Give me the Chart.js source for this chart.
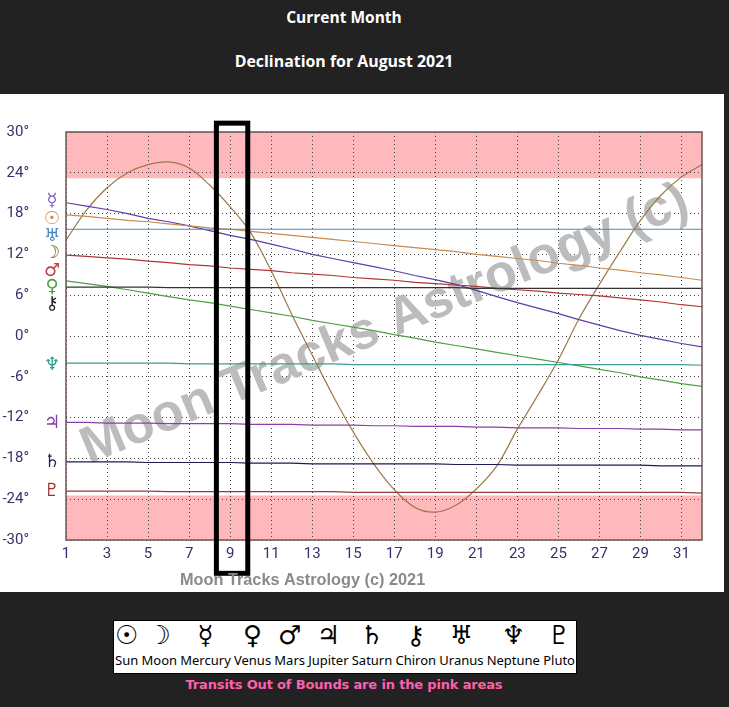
<!DOCTYPE html>
<html>
<head>
<meta charset="utf-8">
<title>Declination for August 2021</title>
<script src="https://cdn.jsdelivr.net/npm/chart.js@4"></script>
<style>
    html, body { margin: 0; padding: 0; background: #222222; overflow: hidden; }
    body { position: relative; width: 729px; height: 707px; font-family: "Open Sans", sans-serif; }
    .titulo { position: absolute; left: 0; width: 688px; text-align: center; color: #fff; font-weight: bold; }
    #t1 { top: 6px; font-size: 15.5px; line-height: 22px; }
    #t2 { top: 50px; font-size: 15.9px; line-height: 22px; }
    #panel { position: absolute; left: 0; top: 94px; width: 724px; height: 498px; background: #fff; }
    #leyenda { position: absolute; left: 113px; top: 620px; width: 460px; height: 52px; background: #fff; border: 1px solid #000; display: flex; justify-content: space-between; padding: 0 1px; box-sizing: content-box; }
    #leyenda div { text-align: center; color: #000; font-family: "Noto Sans", sans-serif; font-size: 13px; line-height: 16px; white-space: nowrap; }
    #leyenda span { display: block; font-family: "DejaVu Sans", sans-serif; font-weight: bold; font-size: 26px; line-height: 28px; margin-bottom: 3px; }
    #nota { position: absolute; left: 0; top: 676px; width: 688px; text-align: center; color: #ff5fae; font: bold 13px "DejaVu Sans", sans-serif; letter-spacing: -0.16px; line-height: 18px; }
</style>
</head>
<body>
<div class="titulo" id="t1">Current Month</div>
<div class="titulo" id="t2">Declination for August 2021</div>
<div id="panel"><canvas id="grafica" width="724" height="498"></canvas></div>
<div id="leyenda"></div>
<div id="nota">Transits Out of Bounds are in the pink areas</div>

<script>
//Declarar datos
const days = [1,2,3,4,5,6,7,8,9,10,11,12,13,14,15,16,17,18,19,20,21,22,23,24,25,26,27,28,29,30,31,32];
const dayTicks = [1,3,5,7,9,11,13,15,17,19,21,23,25,27,29,31];

const moon = [14.1,18.5,21.8,24.0,25.2,25.6,24.7,22.2,19.0,15.2,9.6,3.2,-2.8,-8.7,-14.1,-18.8,-22.6,-25.2,-25.9,-24.9,-22.5,-19.1,-13.7,-8.7,-3.5,2.5,7.6,12.4,17.0,20.7,23.4,25.2];
const sun = [17.8,17.6,17.3,17.0,16.8,16.5,16.2,15.9,15.7,15.4,15.1,14.8,14.5,14.2,13.9,13.6,13.3,13.0,12.7,12.4,12.0,11.7,11.4,11.1,10.7,10.4,10.0,9.7,9.3,9.0,8.6,8.2];
const mercury = [19.6,19.1,18.6,18.0,17.3,16.8,16.2,15.5,14.8,14.2,13.5,12.8,12.0,11.4,10.8,10.2,9.6,8.9,8.3,7.6,6.7,5.8,4.9,4.1,3.3,2.4,1.6,0.8,0.1,-0.5,-1.1,-1.6];
const venus = [8.1,7.7,7.3,6.8,6.3,5.8,5.3,4.9,4.4,3.9,3.4,2.9,2.3,1.8,1.3,0.8,0.2,-0.3,-0.9,-1.4,-1.9,-2.4,-2.9,-3.4,-3.9,-4.4,-4.9,-5.4,-6.0,-6.5,-7.0,-7.4];
const mars = [11.9,11.7,11.5,11.3,11.0,10.8,10.5,10.3,10.0,9.8,9.6,9.3,9.1,8.9,8.6,8.4,8.2,7.9,7.7,7.5,7.3,7.0,6.8,6.6,6.3,6.1,5.9,5.6,5.3,5.0,4.6,4.3];
const jupiter = [-12.7,-12.7,-12.8,-12.8,-12.8,-12.9,-12.9,-12.9,-12.9,-13.0,-13.0,-13.0,-13.1,-13.1,-13.1,-13.2,-13.2,-13.3,-13.3,-13.3,-13.4,-13.4,-13.5,-13.5,-13.5,-13.6,-13.6,-13.6,-13.7,-13.7,-13.8,-13.8];
const saturn = [-18.5,-18.5,-18.5,-18.5,-18.6,-18.6,-18.6,-18.6,-18.6,-18.7,-18.7,-18.7,-18.8,-18.8,-18.8,-18.8,-18.8,-18.8,-18.8,-18.9,-18.9,-18.9,-19.0,-19.0,-19.0,-19.0,-19.0,-19.0,-19.0,-19.1,-19.1,-19.1];
const chiron = [7.2,7.2,7.2,7.2,7.2,7.1,7.1,7.1,7.1,7.1,7.1,7.1,7.1,7.1,7.1,7.1,7.1,7.1,7.1,7.1,7.0,7.0,7.0,7.0,7.0,7.0,7.0,7.0,7.0,7.0,7.0,7.0];
const uranus = [15.7,15.7,15.7,15.7,15.7,15.7,15.7,15.7,15.7,15.7,15.7,15.7,15.7,15.7,15.7,15.7,15.7,15.7,15.7,15.7,15.7,15.7,15.7,15.7,15.7,15.7,15.7,15.7,15.7,15.7,15.7,15.7];
const neptune = [-4.0,-4.0,-4.0,-4.0,-4.0,-4.0,-4.1,-4.1,-4.1,-4.1,-4.1,-4.1,-4.1,-4.1,-4.2,-4.2,-4.2,-4.2,-4.2,-4.2,-4.2,-4.2,-4.2,-4.2,-4.2,-4.2,-4.2,-4.2,-4.2,-4.2,-4.2,-4.3];
const pluto = [-22.8,-22.8,-22.8,-22.8,-22.8,-22.9,-22.9,-22.9,-22.9,-22.9,-22.9,-22.9,-22.9,-22.9,-23.0,-23.0,-23.0,-23.0,-23.0,-23.0,-23.0,-23.0,-23.0,-23.0,-23.0,-23.0,-23.0,-23.0,-23.0,-23.0,-23.0,-23.1];

const legendNames = ['Sun','Moon','Mercury','Venus','Mars','Jupiter','Saturn','Chiron','Uranus','Neptune','Pluto'];
const legendGlyphs = ['☉','☽','☿','♀','♂','♃','♄','⚷','♅','♆','♇'];

// glifos junto al eje: simbolo, altura en grados, color
const axisGlyphs = ['☿','☉','♅','☽','♂','♀','⚷','♆','♃','♄','♇'];
const axisGlyphDegrees = [19.8,17.2,14.6,12.1,9.5,7.2,4.7,-4.3,-12.9,-18.6,-22.8];
const axisGlyphColors = ['#7a5cc0','#d9813a','#4a86c0','#8a6a30','#c04040','#4fa040','#222222','#2a9a8a','#8a3aa8','#222255','#a03030'];

const outOfBoundsTop = 23.2;
const outOfBoundsBottom = -23.45;

// pone la leyenda de abajo
const leyenda = document.getElementById('leyenda');
legendNames.forEach((name, i) => {
    const celda = document.createElement('div');
    celda.innerHTML = `<span>${legendGlyphs[i]}</span>${name}`;
    leyenda.appendChild(celda);
});

/**
 * Fondo rosa, marca de agua y glifos, dibujados antes de las lineas
 */
const fondo = {
    id: 'fondo',
    beforeDatasetsDraw(chart) {
        const { ctx, scales: { y } } = chart;
        ctx.save();
        ctx.font = 'bold 52px "Liberation Sans"';
        ctx.fillStyle = '#bcbcbc';
        ctx.textAlign = 'center';
        ctx.textBaseline = 'middle';
        ctx.translate(385, 231);
        ctx.rotate(-22.7 * Math.PI / 180);
        ctx.fillText('Moon Tracks Astrology (c)', 0, 0);
        ctx.restore();

        ctx.save();
        ctx.font = 'bold 18px "DejaVu Sans"';
        ctx.textAlign = 'center';
        ctx.textBaseline = 'middle';
        axisGlyphs.forEach((g, i) => {
            ctx.fillStyle = axisGlyphColors[i];
            ctx.fillText(g, 52, y.getPixelForValue(axisGlyphDegrees[i]));
        });
        ctx.restore();
    },
    beforeDraw(chart) {
        const { ctx, chartArea: a, scales: { y } } = chart;
        ctx.save();
        ctx.fillStyle = '#ffb9bc';
        const y1 = y.getPixelForValue(outOfBoundsTop);
        const y2 = y.getPixelForValue(outOfBoundsBottom);
        ctx.fillRect(a.left, a.top, a.width, y1 - a.top);
        ctx.fillRect(a.left, y2, a.width, a.bottom - y2);
        ctx.restore();
    },
    afterDraw(chart) {
        const { ctx, chartArea: a, scales: { x, y } } = chart;
        ctx.save();
        // marco del area
        ctx.strokeStyle = '#6b5656';
        ctx.lineWidth = 1.5;
        ctx.strokeRect(a.left, a.top, a.width, a.height);

        // recuadro negro del dia actual
        ctx.strokeStyle = '#000';
        ctx.lineWidth = 5;
        const left = x.getPixelForValue(8.33);
        const right = x.getPixelForValue(9.86);
        const top = y.getPixelForValue(31.3);
        const bottom = y.getPixelForValue(-34.9);
        ctx.strokeRect(left, top, right - left, bottom - top);

        // pie
        ctx.fillStyle = '#8a8a8a';
        ctx.font = 'bold 16.3px "Liberation Sans"';
        ctx.textBaseline = 'middle';
        ctx.fillText('Moon Tracks Astrology (c) 2021', 180, 487);
        ctx.restore();
    }
};

const linea = (label, data, color) => ({
    label: label,
    data: data,
    borderColor: color,
    borderWidth: 1.2,
    pointRadius: 0,
    fill: false
});

var grafica = new Chart(document.getElementById('grafica').getContext('2d'), {
    type: 'line',
    data: {
        labels: days,
        datasets: [
            linea('Uranus', days.map((d, i) => ({ x: d, y: uranus[i] })), '#4a86c0'),
            linea('Sun', days.map((d, i) => ({ x: d, y: sun[i] })), '#c98a50'),
            linea('Chiron', days.map((d, i) => ({ x: d, y: chiron[i] })), '#333333'),
            linea('Neptune', days.map((d, i) => ({ x: d, y: neptune[i] })), '#3f9a90'),
            linea('Pluto', days.map((d, i) => ({ x: d, y: pluto[i] })), '#9a3a3a'),
            linea('Saturn', days.map((d, i) => ({ x: d, y: saturn[i] })), '#1c1c50'),
            linea('Jupiter', days.map((d, i) => ({ x: d, y: jupiter[i] })), '#8a3fa8'),
            linea('Venus', days.map((d, i) => ({ x: d, y: venus[i] })), '#4da040'),
            linea('Mars', days.map((d, i) => ({ x: d, y: mars[i] })), '#b03535'),
            linea('Mercury', days.map((d, i) => ({ x: d, y: mercury[i] })), '#5b3fa8'),
            Object.assign(linea('Moon', days.map((d, i) => ({ x: d, y: moon[i] })), '#9c7a4c'), { tension: 0.35 })
        ]
    },
    options: {
        responsive: false,
        animation: false,
        devicePixelRatio: 1,
        layout: { padding: { top: 38, right: 22, left: 0, bottom: 0 } },
        plugins: { legend: { display: false }, title: { display: false }, tooltip: { enabled: false } },
        scales: {
            x: {
                type: 'linear',
                min: 1,
                max: 32,
                afterFit: (s) => { s.height = 52; },
                afterBuildTicks: (s) => { s.ticks = dayTicks.map((d) => ({ value: d })); },
                grid: { color: '#444', lineWidth: 1, drawTicks: false },
                border: { display: false, dash: [1, 3] },
                ticks: {
                    padding: 5,
                    maxRotation: 0,
                    autoSkip: false,
                    color: '#33336b',
                    font: { family: '"Liberation Sans Narrow", Roboto', size: 15 }
                }
            },
            y: {
                min: -30,
                max: 30,
                // el padding de los ticks no debe empujar el area hacia abajo
                afterFit: (s) => { s.width = 66; s.paddingTop = 0; s.paddingBottom = 0; },
                grid: { color: '#444', lineWidth: 1, drawTicks: false },
                border: { display: false, dash: [1, 3] },
                ticks: {
                    stepSize: 6,
                    padding: 37,
                    color: '#33336b',
                    font: { family: '"Liberation Sans Narrow", Roboto', size: 15 },
                    callback: (v) => v + '°'
                }
            }
        }
    },
    plugins: [fondo]
});
</script>
</body>
</html>
